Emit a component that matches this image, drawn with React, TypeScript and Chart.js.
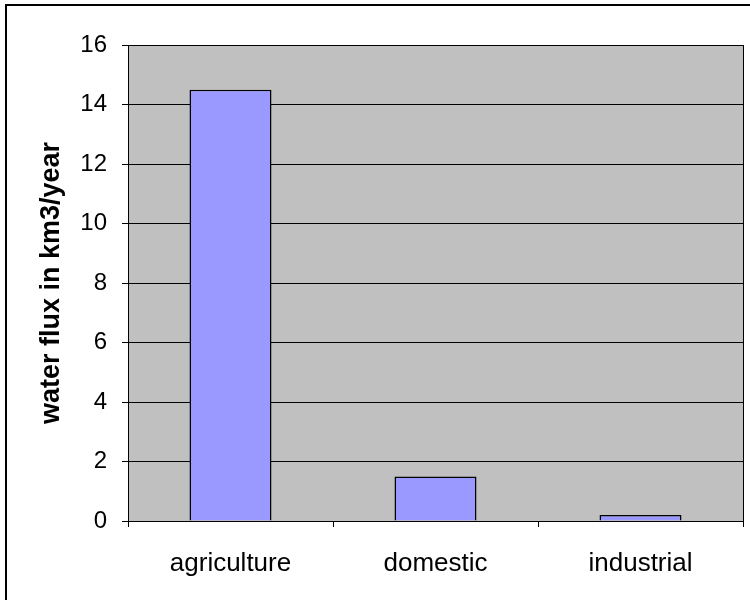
import React, { useEffect, useRef } from "react";
import { Chart, registerables } from "chart.js";

Chart.register(...registerables);

const categories = ["agriculture", "domestic", "industrial"];
const values = [14.5, 1.5, 0.2];
const yTitle = "water flux in km3/year";

const PLOT_LEFT = 128;
const PLOT_TOP = 45;
const PLOT_RIGHT = 743;
const PLOT_BOTTOM = 521;
const FONT = "'Liberation Sans', Arial, sans-serif";

const framePlugin = {
  id: "frame",
  beforeDraw(chart: any) {
    const { ctx, chartArea } = chart;
    ctx.save();
    ctx.fillStyle = "#ffffff";
    ctx.fillRect(0, 0, chart.width, chart.height);
    ctx.fillStyle = "#c0c0c0";
    ctx.fillRect(chartArea.left, chartArea.top, chartArea.right - chartArea.left, chartArea.bottom - chartArea.top);
    ctx.restore();
  },
  afterDraw(chart: any) {
    const { ctx, chartArea } = chart;
    ctx.save();
    ctx.strokeStyle = "#000000";
    ctx.lineWidth = 1;
    ctx.beginPath();
    ctx.moveTo(Math.round(chartArea.right) + 0.5, chartArea.top);
    ctx.lineTo(Math.round(chartArea.right) + 0.5, chartArea.bottom);
    ctx.stroke();
    ctx.lineWidth = 2;
    ctx.beginPath();
    ctx.moveTo(6, 600);
    ctx.lineTo(6, 5);
    ctx.lineTo(750, 5);
    ctx.stroke();
    ctx.restore();
  },
};

export default function App() {
  const ref = useRef<HTMLCanvasElement | null>(null);
  useEffect(() => {
    if (!ref.current) return;
    const chart = new Chart(ref.current, {
      type: "bar",
      data: {
        labels: categories,
        datasets: [
          {
            data: values,
            backgroundColor: "#9999ff",
            borderColor: "#000000",
            borderWidth: 1.5,
            categoryPercentage: 1,
            barPercentage: 0.4,
          },
        ],
      },
      options: {
        responsive: false,
        animation: false,
        devicePixelRatio: 1,
        layout: {
          padding: { top: PLOT_TOP, right: 750 - PLOT_RIGHT, left: 0, bottom: 0 },
        },
        plugins: {
          legend: { display: false },
          tooltip: { enabled: false },
        },
        scales: {
          x: {
            afterFit(scale: any) {
              scale.height = 600 - PLOT_BOTTOM;
            },
            grid: {
              display: true,
              drawOnChartArea: false,
              drawTicks: true,
              tickLength: 6,
              color: "#000000",
              offset: true,
            },
            border: { display: true, color: "#000000", width: 1 },
            ticks: {
              color: "#000000",
              padding: 21,
              font: { family: FONT, size: 26 },
            },
          },
          y: {
            min: 0,
            max: 16,
            afterFit(scale: any) {
              scale.width = PLOT_LEFT;
            },
            grid: {
              color: "#000000",
              lineWidth: 1,
              drawTicks: true,
              tickLength: 6,
            },
            border: { display: true, color: "#000000", width: 1 },
            ticks: {
              stepSize: 2,
              color: "#000000",
              padding: 15,
              font: { family: FONT, size: 24 },
            },
            title: {
              display: true,
              text: yTitle,
              color: "#000000",
              padding: { top: 35, bottom: 0 },
              font: { family: FONT, size: 27, weight: "bold" },
            },
          },
        },
      },
      plugins: [framePlugin],
    });
    return () => chart.destroy();
  }, []);
  return (
    <div style={{ position: "fixed", left: 0, top: 0, width: 750, height: 600, background: "#fff" }}>
      <canvas ref={ref} width={750} height={600} style={{ display: "block" }} />
    </div>
  );
}
